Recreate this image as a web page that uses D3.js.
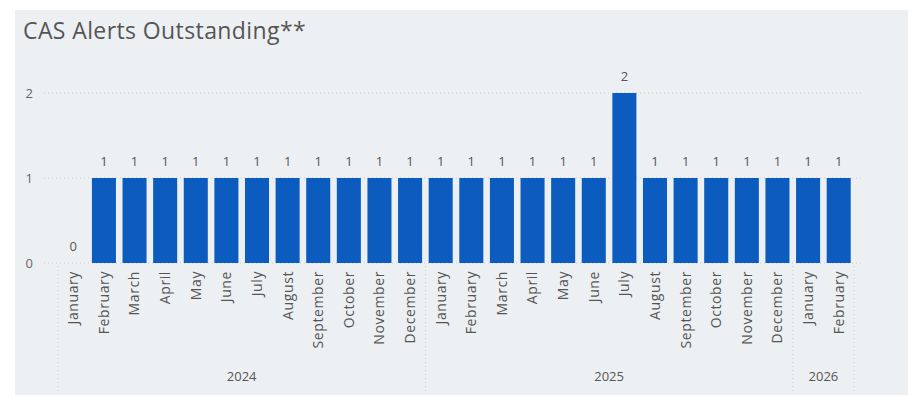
<!DOCTYPE html>
<html>
<head>
<meta charset="utf-8">
<script src="https://cdn.jsdelivr.net/npm/d3@7/dist/d3.min.js"></script>
<style>
  html, body { margin: 0; padding: 0; background: #ffffff; }
  svg { display: block; }
</style>
</head>
<body>
<svg id="chart" width="910" height="398"></svg>
<script>
// ---- data ----
const months = ["January","February","March","April","May","June","July","August","September","October","November","December",
                "January","February","March","April","May","June","July","August","September","October","November","December",
                "January","February"];
const years = ["2024","2024","2024","2024","2024","2024","2024","2024","2024","2024","2024","2024",
               "2025","2025","2025","2025","2025","2025","2025","2025","2025","2025","2025","2025",
               "2026","2026"];
const values = [0,1,1,1,1,1,1,1,1,1,1,1, 1,1,1,1,1,1,2,1,1,1,1,1, 1,1];
const yTicks = [0, 1, 2];
const title = "CAS Alerts Outstanding**";

// ---- layout ----
const svg = d3.select("#chart");
const font = "'Segoe UI', 'Open Sans', sans-serif";

svg.append("rect").attr("x", 15).attr("y", 10).attr("width", 893).attr("height", 385)
  .attr("fill", "#edf0f3");

svg.append("text").attr("x", 23).attr("y", 39)
  .attr("font-family", font).attr("font-size", 23).attr("fill", "#555")
  .attr("letter-spacing", 0.4)
  .text(title);

const keys = months.map((m, i) => i);
const x = d3.scaleBand().domain(keys).range([58, 854]).paddingInner(0.215).paddingOuter(0.1075);
const y = d3.scaleLinear().domain([0, 2]).range([263, 93]);

// gridlines
const grid = svg.append("g");
grid.selectAll("line").data(yTicks).join("line")
  .attr("x1", 44).attr("x2", 862)
  .attr("y1", d => y(d)).attr("y2", d => y(d))
  .attr("stroke", "#c8ccd0").attr("stroke-width", 1).attr("stroke-dasharray", "1,3");

// y axis labels
const yAxis = d3.axisLeft(y).tickValues(yTicks).tickSize(0).tickPadding(0).tickFormat(d3.format("d"));
const ya = svg.append("g").attr("transform", "translate(33,0)").call(yAxis);
ya.select(".domain").remove();
ya.selectAll("text").attr("font-family", font).attr("font-size", 13).attr("fill", "#666");

// bars
svg.append("g").selectAll("rect").data(values).join("rect")
  .attr("x", (d, i) => x(i)).attr("width", x.bandwidth())
  .attr("y", d => y(d)).attr("height", d => y(0) - y(d))
  .attr("fill", "#0b5cbe");

// data labels
svg.append("g").selectAll("text").data(values).join("text")
  .attr("x", (d, i) => x(i) + x.bandwidth() / 2)
  .attr("y", d => y(d) - 12)
  .attr("text-anchor", "middle")
  .attr("font-family", font).attr("font-size", 13).attr("fill", "#555")
  .text(d => d);

// month axis
const xAxis = d3.axisBottom(x).tickSize(0).tickPadding(0).tickFormat(i => months[i]);
const xa = svg.append("g").attr("transform", "translate(0,263)").call(xAxis);
xa.select(".domain").remove();
xa.selectAll("text")
  .attr("font-family", font).attr("font-size", 14).attr("fill", "#555")
  .attr("letter-spacing", 0.6)
  .attr("transform", "rotate(-90)")
  .attr("text-anchor", "end")
  .attr("x", -8).attr("y", 0).attr("dy", "0.35em");

// year groups
const yearNames = Array.from(new Set(years));
const groups = yearNames.map(yr => {
  const idx = keys.filter(i => years[i] === yr);
  return { yr, start: x(idx[0]) - x.step() * x.paddingInner() / 2, end: x(idx[idx.length - 1]) + x.bandwidth() + x.step() * x.paddingInner() / 2 };
});
const bounds = [groups[0].start].concat(groups.map(g => g.end));
svg.append("g").selectAll("line").data(bounds).join("line")
  .attr("x1", d => d).attr("x2", d => d).attr("y1", 266).attr("y2", 393)
  .attr("stroke", "#c8ccd0").attr("stroke-dasharray", "1,3");
svg.append("g").selectAll("text").data(groups).join("text")
  .attr("x", g => (g.start + g.end) / 2).attr("y", 381)
  .attr("text-anchor", "middle")
  .attr("font-family", font).attr("font-size", 13).attr("fill", "#555")
  .text(g => g.yr);
</script>
</body>
</html>
